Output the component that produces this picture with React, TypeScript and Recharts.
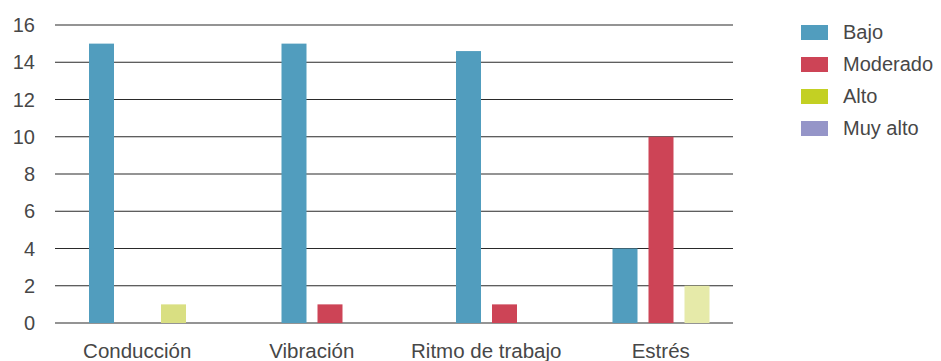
import React from 'react';
import { BarChart, Bar, XAxis, YAxis, CartesianGrid, Legend, Cell } from 'recharts';

const categories = ['Conducción', 'Vibración', 'Ritmo de trabajo', 'Estrés'];
const seriesNames = ['Bajo', 'Moderado', 'Alto', 'Muy alto'];
const bajo = [15, 15, 14.6, 4];
const moderado = [0, 1, 1, 10];
const alto = [1, 0, 0, 2];
const muyAlto = [0, 0, 0, 0];
const yTicks = [0, 2, 4, 6, 8, 10, 12, 14, 16];

const seriesColors = ['#519dbe', '#cd4456', '#c3d023', '#9595c8'];
// the Alto bars are drawn in paler shades than the legend swatch
const altoFills = ['#d9df82', '#d9df82', '#d9df82', '#e6eaa9'];

const FONT = '"Liberation Sans", Arial, sans-serif';
const TEXT = '#474747';
const BAR_SIZE = 25;
const BAR_GAP = 11;
const STEP = BAR_SIZE + BAR_GAP;

const keys = ['bajo', 'moderado', 'alto', 'muyAlto'];
const data = categories.map((name, i) => ({
  name,
  bajo: bajo[i],
  moderado: moderado[i],
  alto: alto[i],
  muyAlto: muyAlto[i],
}));

// number of slots used per category: up to the last non-zero series
const slotCount = data.map((row: any) => {
  let last = 0;
  keys.forEach((k, s) => {
    if (row[k] > 0) last = s;
  });
  return last + 1;
});

// re-centre each group on its category so empty trailing slots take no room
const makeShape = (seriesIndex: number) => (props: any) => {
  const { x, y, width, height, index, fill } = props;
  if (!height || height <= 0) return <g />;
  const center = x + width / 2 - (seriesIndex - (keys.length - 1) / 2) * STEP;
  const used = slotCount[index];
  const nx = center + (seriesIndex - (used - 1) / 2) * STEP - width / 2;
  return <rect x={nx} y={y} width={width} height={height} fill={fill} />;
};

const renderLegend = () => (
  <div style={{ fontFamily: FONT, fontSize: 20, color: TEXT, whiteSpace: 'nowrap' }}>
    {seriesNames.map((name, i) => (
      <div key={name} style={{ display: 'flex', alignItems: 'center', height: 32 }}>
        <span style={{ width: 27, height: 15, background: seriesColors[i], marginRight: 15, flexShrink: 0 }} />
        <span>{name}</span>
      </div>
    ))}
  </div>
);

export default function App() {
  return (
    <BarChart
      width={933}
      height={353}
      data={data}
      margin={{ top: 17, right: 208, bottom: 8, left: 0 }}
      barSize={BAR_SIZE}
      barGap={BAR_GAP}
    >
      <XAxis
        dataKey="name"
        axisLine={false}
        tickLine={false}
        tickSize={0}
        tickMargin={20}
        height={30}
        padding={{ left: -5, right: -15 }}
        interval={0}
        tick={{ fontFamily: FONT, fontSize: 20.5, fill: TEXT }}
      />
      <YAxis
        domain={[0, 16]}
        ticks={yTicks}
        axisLine={false}
        tickLine={false}
        tickSize={0}
        tickMargin={20}
        width={47}
        tick={{ fontFamily: FONT, fontSize: 20, fill: TEXT }}
      />
      <Bar dataKey="bajo" name="Bajo" fill={seriesColors[0]} shape={makeShape(0)} isAnimationActive={false} />
      <Bar dataKey="moderado" name="Moderado" fill={seriesColors[1]} shape={makeShape(1)} isAnimationActive={false} />
      <Bar dataKey="alto" name="Alto" fill={seriesColors[2]} shape={makeShape(2)} isAnimationActive={false}>
        {data.map((_, i) => (
          <Cell key={i} fill={altoFills[i]} />
        ))}
      </Bar>
      <Bar dataKey="muyAlto" name="Muy alto" fill={seriesColors[3]} shape={makeShape(3)} isAnimationActive={false} />
      <CartesianGrid vertical={false} stroke="#2a2a2a" strokeWidth={1.2} />
      <Legend
        layout="horizontal"
        align="center"
        verticalAlign="middle"
        content={renderLegend}
        wrapperStyle={{ left: 793, top: 8, width: 148, height: 130 }}
      />
    </BarChart>
  );
}
